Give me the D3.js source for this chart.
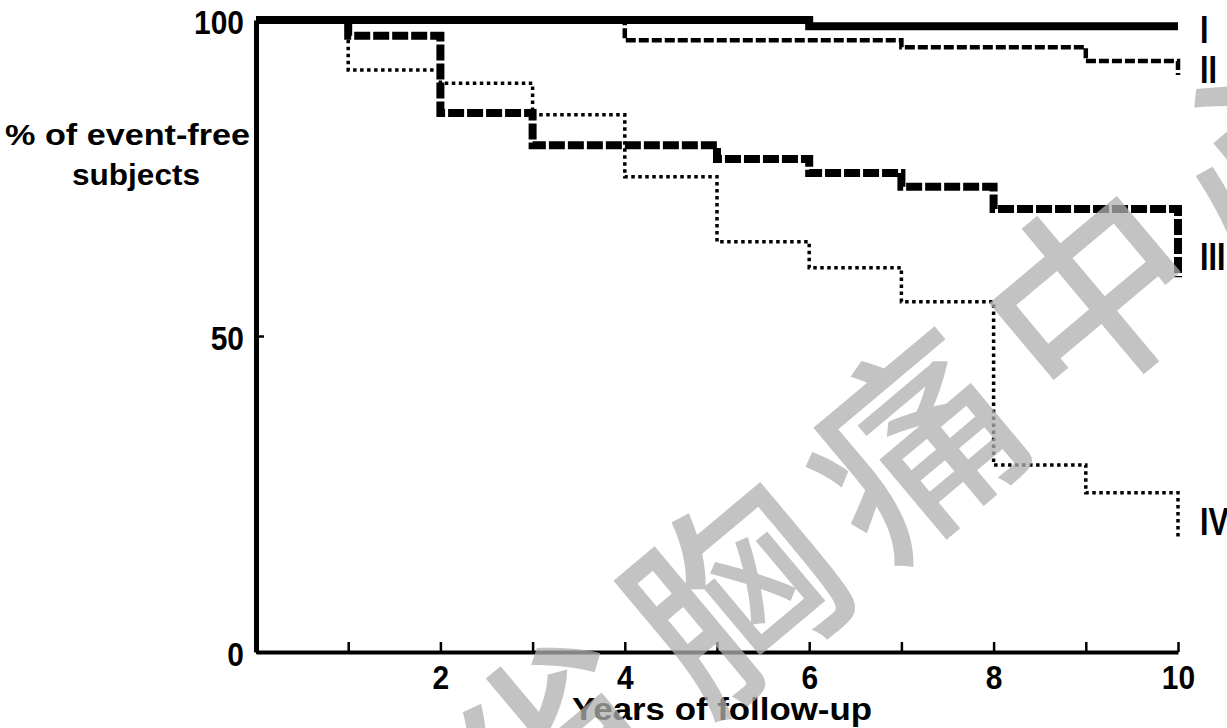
<!DOCTYPE html>
<html><head><meta charset="utf-8">
<script src="https://cdn.jsdelivr.net/npm/d3@7"></script>
<style>html,body{margin:0;padding:0;background:#fff;} svg{display:block;}</style>
</head><body>
<svg id="chart" width="1227" height="728"></svg>
<script>
// ---- data ----
const timesI   = [0, 6, 10];
const survI    = [100, 99, 99];
const timesII  = [0, 4, 7, 9, 10];
const survII   = [100, 96.8, 95.7, 93.5, 91.3];
const timesIII = [0, 1, 2, 3, 5, 6, 7, 8, 10];
const survIII  = [100, 97.5, 85.3, 80.2, 78.0, 75.8, 73.6, 70.1, 59.3];
const timesIV  = [0, 1, 2, 3, 4, 5, 6, 7, 8, 9, 10];
const survIV   = [100, 92.1, 90.0, 85.0, 75.2, 64.9, 60.8, 55.4, 29.6, 25.2, 18.2];
const groupLabels = ["I", "II", "III", "IV"];
const xTickValues = [1, 2, 3, 4, 5, 6, 7, 8, 9, 10];
const xTickLabels = ["", "2", "", "4", "", "6", "", "8", "", "10"];
const yTickValues = [0, 50, 100];
const yTickLabels = ["0", "50", "100"];
const xTitle = "Years of follow-up";
const yTitle = ["% of event-free", "subjects"];
const watermark = "省胸痛中心";

// ---- drawing ----
const svg = d3.select("#chart");
const x = d3.scaleLinear().domain([0, 10]).range([256, 1178]);
const y = d3.scaleLinear().domain([0, 100]).range([652, 20]);
const FONT = "'Liberation Sans', Arial, sans-serif";

const series = [
  {t: timesI,   s: survI,   w: 8,   dash: null,      dy: 17},
  {t: timesII,  s: survII,  w: 4.5, dash: "10,3",    dy: 8},
  {t: timesIII, s: survIII, w: 8,   dash: "16,3",    dy: -7},
  {t: timesIV,  s: survIV,  w: 3.5, dash: "3.5,3.5", dy: -2}
];
const line = d3.line().x(d => x(d[0])).y(d => y(d[1])).curve(d3.curveStepAfter);

// draw curves (IV first, I last)
series.slice().reverse().forEach(sr => {
  const pts = sr.t.map((t, i) => [t, sr.s[i]]);
  svg.append("path").attr("d", line(pts))
    .attr("fill", "none").attr("stroke", "#000")
    .attr("stroke-width", sr.w)
    .attr("stroke-dasharray", sr.dash)
    .attr("stroke-linejoin", "miter").attr("stroke-linecap", "butt");
});

// axes
const xAxis = d3.axisBottom(x).tickValues(xTickValues)
  .tickSizeInner(-10).tickSizeOuter(0)
  .tickFormat((d, i) => xTickLabels[i]);
const gx = svg.append("g").attr("transform", `translate(0,${y(0)})`).call(xAxis);
gx.select(".domain").attr("stroke", "#000").attr("stroke-width", 4);
gx.selectAll(".tick line").attr("stroke", "#000").attr("stroke-width", 2.5);
gx.selectAll(".tick text").attr("y", 37).attr("dy", 0)
  .attr("font-family", FONT).attr("font-weight", "bold").attr("font-size", 34)
  .attr("fill", "#000").attr("transform", "scale(0.88,1)");

const yAxis = d3.axisLeft(y).tickValues(yTickValues)
  .tickSizeInner(-8).tickSizeOuter(0)
  .tickFormat((d, i) => yTickLabels[i]);
const gy = svg.append("g").attr("transform", `translate(${x(0)},0)`).call(yAxis);
gy.select(".domain").attr("stroke", "#000").attr("stroke-width", 5);
gy.selectAll(".tick line").attr("stroke", "#000").attr("stroke-width", 2.5);
gy.selectAll(".tick text").attr("x", 0).attr("dy", "0.40em")
  .attr("font-family", FONT).attr("font-weight", "bold").attr("font-size", 34)
  .attr("fill", "#000").attr("transform", "translate(-12,0) scale(0.88,1)");

// axis titles
svg.append("text").attr("x", 5).attr("y", 145).text(yTitle[0])
  .attr("font-family", FONT).attr("font-weight", "bold").attr("font-size", 30)
  .attr("textLength", 245).attr("lengthAdjust", "spacingAndGlyphs");
svg.append("text").attr("x", 72).attr("y", 185).text(yTitle[1])
  .attr("font-family", FONT).attr("font-weight", "bold").attr("font-size", 30)
  .attr("textLength", 128).attr("lengthAdjust", "spacingAndGlyphs");
svg.append("text").attr("x", 572).attr("y", 720).text(xTitle)
  .attr("font-family", FONT).attr("font-weight", "bold").attr("font-size", 31)
  .attr("textLength", 300).attr("lengthAdjust", "spacingAndGlyphs");

// curve labels
series.forEach((sr, i) => {
  const last = sr.s[sr.s.length - 1];
  svg.append("text")
    .attr("transform", `translate(${x(10) + 22},${y(last) + sr.dy}) scale(0.8,1)`)
    .text(groupLabels[i])
    .attr("font-family", FONT).attr("font-weight", "bold").attr("font-size", 38);
});

// watermark
const wm = svg.append("g").attr("transform", "translate(548,735) rotate(-40)")
  .attr("opacity", 0.75);
wm.selectAll("text").data(Array.from(watermark)).join("text")
  .attr("x", (d, i) => i * 233).attr("y", 0)
  .attr("text-anchor", "middle").attr("dominant-baseline", "central")
  .attr("font-family", "'Noto Sans CJK SC', sans-serif").attr("font-weight", 500)
  .attr("font-size", 205).attr("fill", "#b0b0b0")
  .text(d => d);
</script>
</body></html>
